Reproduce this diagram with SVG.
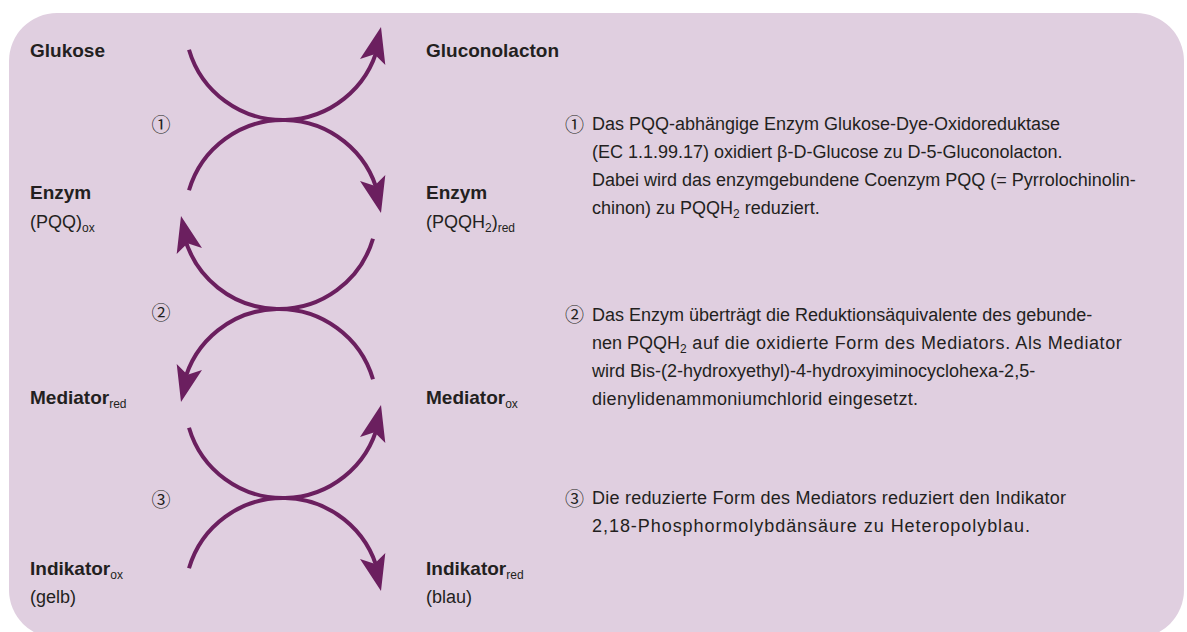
<svg xmlns="http://www.w3.org/2000/svg" xmlns:xlink="http://www.w3.org/1999/xlink" width="1187" height="632" viewBox="0 0 1187 632">
<style>
.lbl{font-family:"Liberation Sans",Arial,sans-serif;font-size:19px;font-weight:bold;fill:#231f20}
.reg{font-family:"Liberation Sans",Arial,sans-serif;font-size:18px;fill:#231f20}
.sub{font-size:12px;font-weight:normal}
.num{font-family:"Noto Sans CJK JP","DejaVu Sans",sans-serif;font-size:19px;fill:#231f20;text-anchor:middle}
.arc{fill:none;stroke:#6b1f5f;stroke-width:4}
.head{fill:#6b1f5f}
</style>
<defs>
<path id="ah" d="M0,0 L13,36 L0,28 L-13,36 Z"/>
</defs>
<rect x="9" y="13" width="1175" height="625" rx="48" ry="48" fill="#e0cfe0"/>

<g id="connectors">
<path class="arc" d="M189,49.7 A98,98 0 0 0 378.1,45.7"/>
<use class="head" href="#ah" xlink:href="#ah" transform="translate(381,27) rotate(13.4)"/>
<path class="arc" d="M189,190.3 A98,98 0 0 1 378.1,194.3"/>
<use class="head" href="#ah" xlink:href="#ah" transform="translate(381,213) rotate(166.6)"/>
<path class="arc" d="M373,238.7 A98,98 0 0 1 183.9,234.7"/>
<use class="head" href="#ah" xlink:href="#ah" transform="translate(181,216) rotate(-13.4)"/>
<path class="arc" d="M373,379.3 A98,98 0 0 0 183.9,383.3"/>
<use class="head" href="#ah" xlink:href="#ah" transform="translate(181,402) rotate(-166.6)"/>
<path class="arc" d="M189,427.7 A98,98 0 0 0 378.1,423.7"/>
<use class="head" href="#ah" xlink:href="#ah" transform="translate(381,405) rotate(13.4)"/>
<path class="arc" d="M189,568.3 A98,98 0 0 1 378.1,572.3"/>
<use class="head" href="#ah" xlink:href="#ah" transform="translate(381,591) rotate(166.6)"/>
</g>

<g id="glukose"><text class="lbl" x="30" y="57">Glukose</text></g>
<g id="gluconolacton"><text class="lbl" x="426" y="57">Gluconolacton</text></g>
<g id="enzym-ox">
<text class="lbl" x="30" y="199">Enzym</text>
<text class="reg" x="30" y="228">(PQQ)<tspan class="sub" dy="4">ox</tspan></text>
</g>
<g id="enzym-red">
<text class="lbl" x="426" y="199">Enzym</text>
<text class="reg" x="426" y="228">(PQQH<tspan class="sub" dy="4">2</tspan><tspan dy="-4">)</tspan><tspan class="sub" dy="4">red</tspan></text>
</g>
<g id="mediator-red"><text class="lbl" x="30" y="404">Mediator<tspan class="sub" dy="4">red</tspan></text></g>
<g id="mediator-ox"><text class="lbl" x="426" y="404">Mediator<tspan class="sub" dy="4">ox</tspan></text></g>
<g id="indikator-ox">
<text class="lbl" x="30" y="575">Indikator<tspan class="sub" dy="4">ox</tspan></text>
<text class="reg" x="30" y="603">(gelb)</text>
</g>
<g id="indikator-red">
<text class="lbl" x="426" y="575">Indikator<tspan class="sub" dy="4">red</tspan></text>
<text class="reg" x="426" y="603">(blau)</text>
</g>

<g id="step-numbers">
<text class="num" x="161" y="132">①</text>
<text class="num" x="161" y="320">②</text>
<text class="num" x="161" y="507">③</text>
</g>

<g id="legend-1">
<text class="num" x="574.5" y="132">①</text>
<text class="reg" x="592" y="130" textLength="468" lengthAdjust="spacing">Das PQQ-abhängige Enzym Glukose-Dye-Oxidoreduktase</text>
<text class="reg" x="592" y="158">(EC 1.1.99.17) oxidiert β-D-Glucose zu D-5-Gluconolacton.</text>
<text class="reg" x="592" y="186">Dabei wird das enzymgebundene Coenzym PQQ (= Pyrrolochinolin-</text>
<text class="reg" x="592" y="214">chinon) zu PQQH<tspan class="sub" dy="4">2</tspan><tspan dy="-4"> reduziert.</tspan></text>
</g>
<g id="legend-2">
<text class="num" x="574.5" y="322">②</text>
<text class="reg" x="592" y="321">Das Enzym überträgt die Reduktionsäquivalente des gebunde-</text>
<text class="reg" x="592" y="349">nen PQQH<tspan class="sub" dy="4">2</tspan><tspan dy="-4" textLength="435" lengthAdjust="spacing"> auf die oxidierte Form des Mediators. Als Mediator</tspan></text>
<text class="reg" x="592" y="377">wird Bis-(2-hydroxyethyl)-4-hydroxyiminocyclohexa-2,5-</text>
<text class="reg" x="592" y="405" textLength="326" lengthAdjust="spacing">dienylidenammoniumchlorid eingesetzt.</text>
</g>
<g id="legend-3">
<text class="num" x="574.5" y="506">③</text>
<text class="reg" x="592" y="504" textLength="474" lengthAdjust="spacing">Die reduzierte Form des Mediators reduziert den Indikator</text>
<text class="reg" x="592" y="532" textLength="438" lengthAdjust="spacing">2,18-Phosphormolybdänsäure zu Heteropolyblau.</text>
</g>
</svg>
